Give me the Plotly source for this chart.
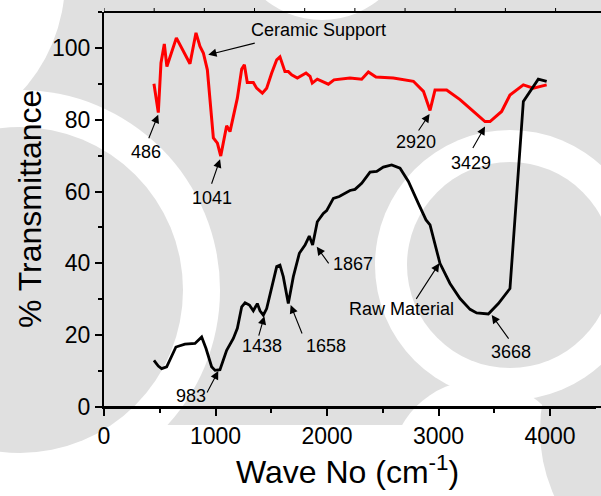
import plotly.graph_objects as go

# FTIR spectra: wavenumber (cm-1) vs % transmittance
ceramic_wn = [448, 487, 511, 541, 564, 649, 771, 825, 861, 891, 927, 981, 1017, 1047,
              1100, 1130, 1196, 1235, 1259, 1285, 1339, 1369, 1420, 1459, 1504, 1549,
              1578, 1623, 1653, 1683, 1734, 1812, 1848, 1868, 1913, 2012, 2063, 2206,
              2311, 2371, 2439, 2595, 2775, 2865, 2924, 2969, 3073, 3193, 3313, 3417,
              3462, 3566, 3641, 3761, 3850, 3970]
ceramic_t = [90.0, 82.0, 95.8, 101.1, 94.8, 102.8, 95.6, 104.2, 100.4, 98.6, 93.9, 74.9,
             73.5, 69.9, 78.3, 76.7, 86.0, 94.1, 95.3, 90.4, 90.4, 88.8, 87.4, 88.8, 93.0,
             96.7, 97.5, 93.4, 93.4, 92.5, 91.6, 93.0, 92.1, 90.2, 91.3, 89.9, 91.1, 91.6,
             91.3, 93.3, 91.9, 91.6, 90.7, 87.9, 82.6, 88.3, 88.3, 85.6, 82.3, 79.5, 79.5,
             82.3, 86.9, 89.7, 88.8, 89.7]

raw_wn = [448, 487, 517, 562, 645, 726, 816, 876, 915, 965, 996, 1040, 1100, 1160, 1196,
          1235, 1265, 1304, 1339, 1375, 1399, 1429, 1459, 1504, 1549, 1578, 1608, 1653,
          1698, 1752, 1803, 1841, 1871, 1913, 1967, 1997, 2057, 2110, 2206, 2251, 2311,
          2386, 2446, 2505, 2580, 2655, 2730, 2819, 2888, 2924, 2969, 3013, 3103, 3193,
          3283, 3342, 3447, 3537, 3641, 3761, 3895, 3970]
raw_t = [13.0, 11.4, 10.7, 11.2, 16.7, 17.5, 17.7, 19.5, 16.3, 11.2, 10.2, 10.4, 15.8,
         19.1, 21.9, 27.9, 29.0, 28.4, 26.8, 28.8, 26.8, 25.6, 27.4, 33.0, 39.1, 39.5,
         36.3, 28.8, 36.3, 42.8, 45.1, 47.6, 45.1, 51.6, 53.9, 54.7, 58.1, 58.6, 60.3,
         60.6, 62.3, 65.4, 65.6, 66.8, 67.4, 66.5, 62.8, 56.7, 52.1, 50.7, 45.1, 40.0,
         34.4, 30.2, 27.2, 26.2, 25.9, 28.8, 33.0, 85.1, 91.3, 90.7]

# peak labels: text, text position (x, y), arrow head (x, y), arrow tail offset (px)
peak_text = ["486", "1041", "Ceramic Support", "2920", "3429",
             "983", "1438", "1658", "1867", "Raw Material", "3668"]
text_x = [377, 969, 1928, 2798, 3291, 780, 1417, 1991, 2233, 2664, 3650]
text_y = [71.0, 58.2, 105.1, 73.8, 68.0, 3.0, 16.9, 16.9, 39.8, 27.3, 15.3]
head_x = [486, 1041, 935, 2920, 3417, 1025, 1438, 1674, 1908, 3007, 3477]
head_y = [81.4, 69.0, 98.1, 81.6, 78.1, 10.0, 25.3, 28.4, 44.6, 40.0, 25.6]
tail_dx = [-10, -9, 48, -12, -13, -12, -6, 12, 13, -24, 18]
tail_dy = [25, 26, -12, 18, 23, 23, 21, 30, 18, 37, 25]

# small ticks along the top frame line
top_ticks = [0, 450, 900, 1350, 1800, 2250, 2700, 3150, 3600, 4050]

FONT = "Arial, Liberation Sans, sans-serif"
PX_PER_UNIT = 0.1115          # horizontal pixels per cm-1
W, H = 601, 496
ML, MR, MT, MB = 104, 5, 12, 89
PW, PH = W - ML - MR, H - MT - MB
FRAME_END = (W - ML) / PW     # frame lines run to the right edge of the page

# pale background emblem in pixel space, painted in order
GREY = "#e0e0e0"
emblem_band = (0, 0, 601, 425)            # grey field behind the plot
emblem_discs = [                          # (cx, cy, r, colour)
    (-100, -20, 165, "white"),   # top-left corner
    (322, -70, 90, "white"),     # notch at the top edge
    (480, 470, 90, "white"),     # clearing under the right ring
    (700, 430, 160, GREY),       # lower right sweep
    (20, 290, 200, "white"),     # ring around left disc
    (20, 290, 163, GREY),        # left disc
    (510, 265, 135, "white"),    # ring around right disc
    (510, 265, 103, GREY),       # right disc
]


def px_to_paper(px, py):
    return (px - ML) / PW, (H - MB - py) / PH


fig = go.Figure()
fig.add_trace(go.Scatter(x=ceramic_wn, y=ceramic_t, mode="lines",
                         line=dict(color="#ff0000", width=3), showlegend=False))
fig.add_trace(go.Scatter(x=raw_wn, y=raw_t, mode="lines",
                         line=dict(color="#000000", width=2.8), showlegend=False))

shapes = []
bx0, by0 = px_to_paper(emblem_band[0], emblem_band[3])
bx1, by1 = px_to_paper(emblem_band[2], emblem_band[1])
shapes.append(dict(type="rect", xref="paper", yref="paper", x0=bx0, x1=bx1,
                   y0=by0, y1=by1, fillcolor=GREY, line=dict(width=0),
                   layer="below"))
for cx, cy, r, col in emblem_discs:
    x0, y0 = px_to_paper(cx - r, cy + r)
    x1, y1 = px_to_paper(cx + r, cy - r)
    shapes.append(dict(type="circle", xref="paper", yref="paper", x0=x0, x1=x1,
                       y0=y0, y1=y1, fillcolor=col, line=dict(width=0),
                       layer="below"))

annotations = []
for t, tx, ty, hx, hy, dx, dy in zip(peak_text, text_x, text_y, head_x, head_y,
                                      tail_dx, tail_dy):
    annotations.append(dict(x=tx, y=ty, xref="x", yref="y", text=t, showarrow=False,
                            font=dict(family=FONT, size=18, color="black"),
                            xanchor="center", yanchor="middle"))
    annotations.append(dict(x=hx, y=hy, xref="x", yref="y", text="", showarrow=True,
                            ax=dx, ay=dy, arrowhead=2, arrowsize=1.5, arrowwidth=1.1,
                            arrowcolor="black", standoff=0))

tx_, ty_ = px_to_paper(30, 209)
annotations.append(dict(x=tx_, y=ty_, xref="paper", yref="paper",
                        text="% Transmittance", textangle=-90, showarrow=False,
                        font=dict(family=FONT, size=32, color="black"),
                        xanchor="center", yanchor="middle"))
tx_, ty_ = px_to_paper(347, 470)
annotations.append(dict(x=tx_, y=ty_, xref="paper", yref="paper",
                        text="Wave No (cm<sup>-1</sup>)", showarrow=False,
                        font=dict(family=FONT, size=32, color="black"),
                        xanchor="center", yanchor="middle"))

# frame lines (bottom extension and top) and the top ticks
for yy in (0, 1):
    shapes.append(dict(type="line", xref="paper", yref="paper", x0=0, x1=FRAME_END,
                       y0=yy, y1=yy, line=dict(color="black", width=2)))
for tt in top_ticks:
    shapes.append(dict(type="line", xref="x", yref="paper", x0=tt, x1=tt,
                       y0=1, y1=1 + 4 / PH, line=dict(color="black", width=1)))

fig.update_layout(
    width=W, height=H,
    margin=dict(l=ML, r=MR, t=MT, b=MB),
    paper_bgcolor="white", plot_bgcolor="rgba(0,0,0,0)",
    font=dict(family=FONT, color="black"),
    xaxis=dict(range=[0, PW / PX_PER_UNIT], showgrid=False, zeroline=False,
               showline=True, linecolor="black", linewidth=2,
               ticks="outside", ticklen=7, tickwidth=1.5, tickcolor="black",
               tick0=0, dtick=1000,
               minor=dict(ticks="outside", ticklen=4, tickwidth=1.5, dtick=500,
                          tickcolor="black"),
               tickfont=dict(family=FONT, size=23, color="black")),
    yaxis=dict(range=[0, 110], showgrid=False, zeroline=False,
               showline=True, linecolor="black", linewidth=2,
               ticks="outside", ticklen=7, tickwidth=1.5, tickcolor="black",
               tick0=0, dtick=20,
               minor=dict(ticks="outside", ticklen=4, tickwidth=1.5, dtick=10,
                          tickcolor="black"),
               tickfont=dict(family=FONT, size=23, color="black")),
    annotations=annotations,
    shapes=shapes,
)

fig.write_html("out.html")
